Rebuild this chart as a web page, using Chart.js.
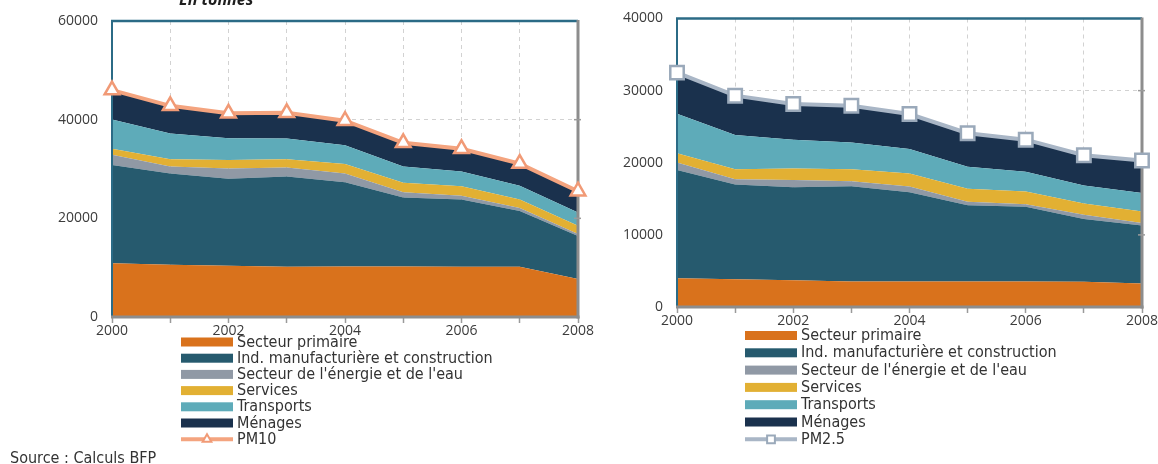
<!DOCTYPE html>
<html>
<head>
<meta charset="utf-8">
<script src="https://cdn.jsdelivr.net/npm/chart.js@4.4.1/dist/chart.umd.min.js"></script>
<style>
  html, body { margin: 0; padding: 0; background: #fff; }
  body { width: 1158px; height: 464px; overflow: hidden; position: relative;
         font-family: "DejaVu Sans Condensed", "DejaVu Sans", sans-serif; }
  #pm10 { position: absolute; left: 0; top: 0; }
  #pm25 { position: absolute; left: 605px; top: 0; }
  .unit { position: absolute; left: 179px; top: -12px; line-height: 16px;
          font: italic bold 16px "Open Sans", sans-serif; color: #1e1e1e; white-space: nowrap; }
  .source { position: absolute; left: 10px; top: 450px; line-height: 16px;
            font-size: 16px; color: #333; white-space: nowrap; }
</style>
</head>
<body>
<canvas id="pm10" width="605" height="464"></canvas>
<canvas id="pm25" width="553" height="464"></canvas>
<div class="unit">En tonnes</div>
<div class="source">Source : Calculs BFP</div>

<script>
// Years on the horizontal axis
const years = ['2000', '2001', '2002', '2003', '2004', '2005', '2006', '2007', '2008'];

// Sector names, in stacking order (bottom to top)
const sectorNames = [
  'Secteur primaire',
  'Ind. manufacturière et construction',
  "Secteur de l'énergie et de l'eau",
  'Services',
  'Transports',
  'Ménages'
];

// PM10 emissions by sector (tonnes)
const pm10Primaire   = [10900, 10600, 10400, 10200, 10250, 10250, 10200, 10200, 7700];
const pm10Industrie  = [19900, 18500, 17600, 18300, 17050, 13950, 13600, 11300, 8700];
const pm10Energie    = [2100, 1400, 2100, 1800, 1800, 1100, 800, 600, 400];
const pm10Services   = [1200, 1500, 1700, 1700, 1900, 1900, 1900, 1700, 1700];
const pm10Transports = [5950, 5200, 4450, 4200, 3800, 3300, 3000, 2800, 2700];
const pm10Menages    = [5950, 5600, 5050, 5200, 5000, 4800, 4600, 4500, 4300];
const pm10Total      = [46000, 42800, 41300, 41400, 39800, 35300, 34100, 31100, 25500];

// PM2.5 emissions by sector (tonnes)
const pm25Primaire   = [4000, 3850, 3700, 3550, 3550, 3550, 3550, 3500, 3250];
const pm25Industrie  = [15000, 13150, 12900, 13200, 12350, 10550, 10350, 8700, 8050];
const pm25Energie    = [1050, 700, 1000, 700, 800, 500, 350, 600, 350];
const pm25Services   = [1250, 1400, 1600, 1650, 1800, 1800, 1750, 1550, 1600];
const pm25Transports = [5500, 4750, 4000, 3700, 3400, 3050, 2750, 2500, 2550];
const pm25Menages    = [5700, 5450, 4950, 5100, 4850, 4650, 4450, 4200, 4500];
const pm25Total      = [32500, 29300, 28150, 27900, 26750, 24100, 23200, 21050, 20300];

// Value-axis ticks
const pm10Ticks = [0, 20000, 40000, 60000];
const pm25Ticks = [0, 10000, 20000, 30000, 40000];

const sectorColors = ['#d9721c', '#265a6e', '#9099a5', '#e2b033', '#5eabb9', '#1a314d'];

Chart.defaults.font.family = "'Open Sans', sans-serif";
Chart.defaults.font.size = 14;
Chart.defaults.color = '#3c3c3c';

// Chart frame: teal on top/left, grey on right/bottom, drawn under the total line
const framePlugin = {
  id: 'frame',
  afterDatasetDraw(chart, args) {
    if (args.index !== 0) return;
    const { left, right, top, bottom } = chart.chartArea;
    const ctx = chart.ctx;
    ctx.save();
    ctx.lineCap = 'butt';
    ctx.strokeStyle = '#2b6b86';
    ctx.lineWidth = 2.5;
    ctx.beginPath(); ctx.moveTo(left - 1, top); ctx.lineTo(right, top); ctx.stroke();
    ctx.lineWidth = 2;
    ctx.beginPath(); ctx.moveTo(left, top); ctx.lineTo(left, bottom); ctx.stroke();
    ctx.strokeStyle = '#8d8d8d';
    ctx.lineWidth = 3;
    ctx.beginPath(); ctx.moveTo(right, top - 1); ctx.lineTo(right, bottom + 1.5); ctx.stroke();
    ctx.beginPath(); ctx.moveTo(left - 1, bottom); ctx.lineTo(right + 1.5, bottom); ctx.stroke();
    // short marks on the right edge at each value tick
    ctx.lineWidth = 1.5;
    ctx.strokeStyle = '#9a9a9a';
    chart.scales.y.ticks.forEach(t => {
      const y = chart.scales.y.getPixelForValue(t.value);
      if (y <= top + 2 || y >= bottom - 2) return;
      ctx.beginPath(); ctx.moveTo(right - 4, y); ctx.lineTo(right + 3, y); ctx.stroke();
    });
    ctx.restore();
  }
};

// One legend entry per row below the plot
const rowLegendPlugin = {
  id: 'rowLegend',
  afterDraw(chart, args, opts) {
    const ctx = chart.ctx;
    ctx.save();
    ctx.font = opts.font;
    ctx.textBaseline = 'middle';
    ctx.textAlign = 'left';
    chart.data.datasets.forEach((ds, i) => {
      const x = opts.x;
      const y = opts.y + i * opts.rowGap;
      if (ds.fill === false) {
        ctx.strokeStyle = ds.borderColor;
        ctx.lineWidth = 4;
        ctx.beginPath(); ctx.moveTo(x, y); ctx.lineTo(x + opts.boxWidth, y); ctx.stroke();
        ctx.fillStyle = '#fff';
        ctx.strokeStyle = ds.pointBorderColor;
        ctx.lineWidth = 2;
        Chart.helpers.drawPoint(ctx, { pointStyle: ds.pointStyle, radius: opts.markerRadius, borderWidth: 2, rotation: 0 },
          x + opts.boxWidth / 2, y);
      } else {
        ctx.fillStyle = ds.backgroundColor;
        ctx.fillRect(x, y - opts.boxHeight / 2, opts.boxWidth, opts.boxHeight);
      }
      ctx.fillStyle = '#333';
      ctx.fillText(ds.label, x + opts.boxWidth + 4, y + 0.5);
    });
    ctx.restore();
  }
};

function buildPanel(canvasId, parts, total, totalLabel, totalStyle, ticks, layout) {
  const datasets = parts.map((values, i) => ({
    label: sectorNames[i],
    data: values,
    backgroundColor: sectorColors[i],
    borderColor: sectorColors[i],
    borderWidth: 0,
    pointRadius: 0,
    pointHoverRadius: 0,
    tension: 0,
    fill: i === 0 ? 'origin' : '-1',
    stack: 'sectors',
    order: 1
  }));
  datasets.push(Object.assign({
    label: totalLabel,
    data: total,
    fill: false,
    tension: 0,
    borderWidth: 4,
    pointBackgroundColor: '#fff',
    stack: 'total',
    order: 0,
    clip: false
  }, totalStyle));

  return new Chart(document.getElementById(canvasId), {
    type: 'line',
    data: { labels: years, datasets },
    options: {
      responsive: false,
      animation: false,
      events: [],
      layout: { padding: layout.padding },
      plugins: {
        legend: { display: false },
        tooltip: { enabled: false },
        rowLegend: layout.legend
      },
      scales: {
        x: {
          offset: false,
          grid: { color: '#d2d2d2', lineWidth: 1, drawTicks: true, tickLength: 6, tickColor: '#9a9a9a', tickWidth: 1.5 },
          border: { display: false, dash: [4, 4] },
          ticks: {
            autoSkip: false, maxRotation: 0, padding: 0,
            callback: (v, i) => (i % 2 === 0 ? years[i] : '')
          },
          afterFit(scale) { scale.height = 20; scale.paddingLeft = 0; scale.paddingRight = 0; }
        },
        y: {
          stacked: true,
          min: ticks[0],
          max: ticks[ticks.length - 1],
          afterBuildTicks(scale) { scale.ticks = ticks.map(v => ({ value: v })); },
          grid: { color: '#d2d2d2', lineWidth: 1, drawTicks: false },
          border: { display: false, dash: [4, 4] },
          ticks: { padding: layout.yPad, callback: v => String(v) },
          afterFit(scale) { scale.width = 60; scale.paddingTop = 0; scale.paddingBottom = 0; }
        }
      }
    },
    plugins: [framePlugin, rowLegendPlugin]
  });
}

buildPanel('pm10',
  [pm10Primaire, pm10Industrie, pm10Energie, pm10Services, pm10Transports, pm10Menages],
  pm10Total, 'PM10',
  { borderColor: '#f4a47f', pointStyle: 'triangle', pointRadius: 8.5, pointBorderWidth: 2.5, pointBorderColor: '#f19a76' },
  pm10Ticks,
  {
    padding: { left: 52, top: 21, right: 27, bottom: 127 },
    yPad: 14,
    legend: { x: 181, y: 342, rowGap: 16.2, boxWidth: 52, boxHeight: 9, markerRadius: 5,
              font: '16px "DejaVu Sans Condensed", "DejaVu Sans", sans-serif' }
  });

buildPanel('pm25',
  [pm25Primaire, pm25Industrie, pm25Energie, pm25Services, pm25Transports, pm25Menages],
  pm25Total, 'PM2.5',
  { borderColor: '#a9b6c6', pointStyle: 'rect', pointRadius: 9.5, pointBorderWidth: 2.5, pointBorderColor: '#9aa9ba' },
  pm25Ticks,
  {
    padding: { left: 12, top: 18.5, right: 16, bottom: 137 },
    yPad: 14,
    legend: { x: 140, y: 335.5, rowGap: 17.3, boxWidth: 52, boxHeight: 9, markerRadius: 5.5,
              font: '16px "DejaVu Sans Condensed", "DejaVu Sans", sans-serif' }
  });
</script>
</body>
</html>
